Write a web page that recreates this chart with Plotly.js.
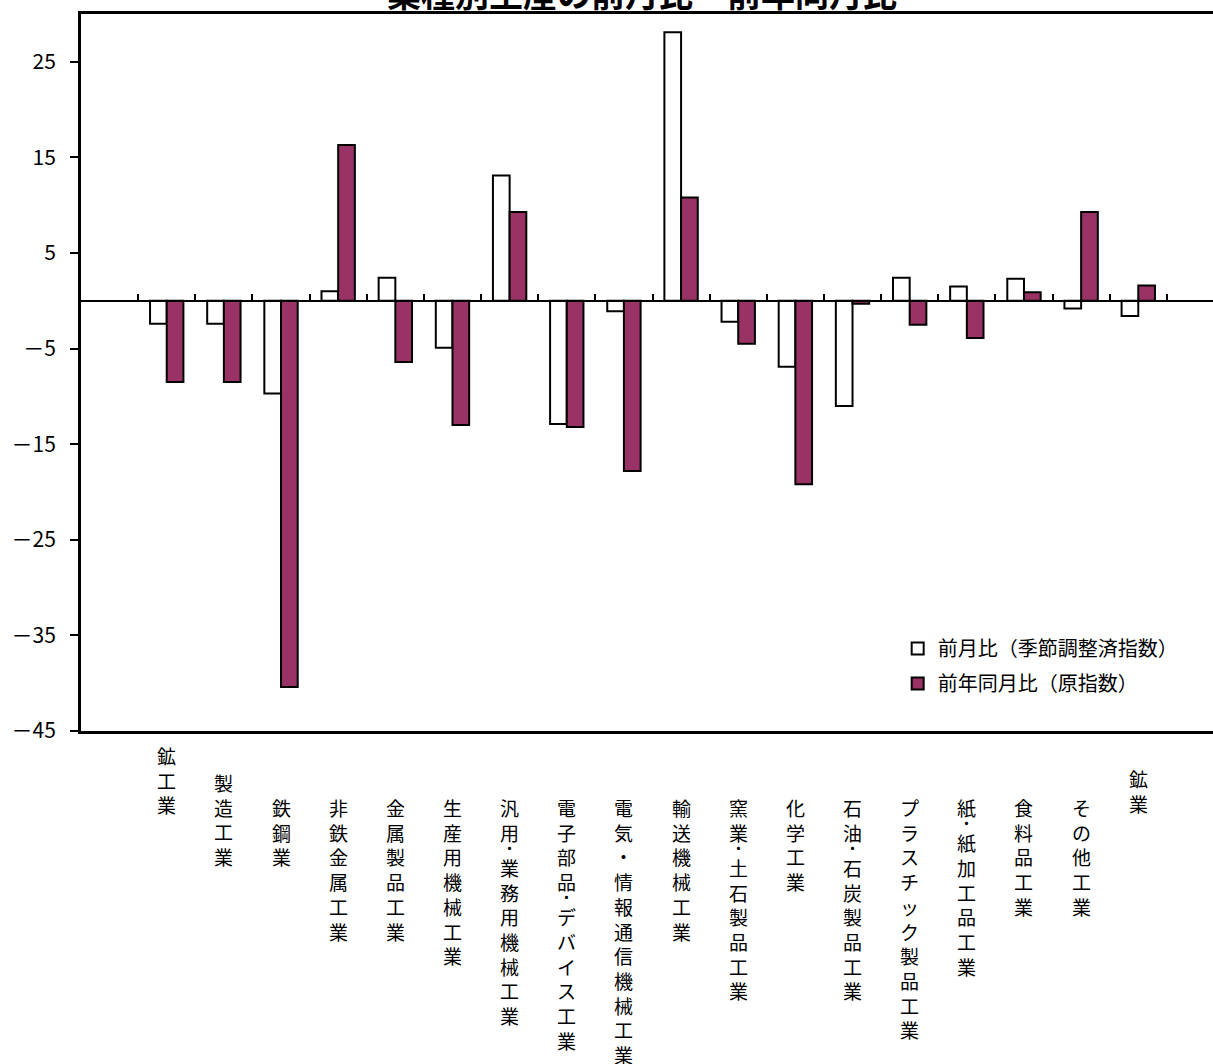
<!DOCTYPE html>
<html>
<head>
<meta charset="utf-8">
<script src="https://cdn.plot.ly/plotly-3.0.1.min.js"></script>
<style>
  html, body { margin: 0; padding: 0; overflow: hidden; background: #ffffff; }
  #chart { width: 1240px; height: 1064px; }
</style>
</head>
<body>
<div id="chart"></div>
<script>
// 業種別生産：前月比（季節調整済指数）と前年同月比（原指数）, 単位 %
const categories = [
  '鉱工業', '製造工業', '鉄鋼業', '非鉄金属工業', '金属製品工業', '生産用機械工業',
  '汎用･業務用機械工業', '電子部品･デバイス工業', '電気・情報通信機械工業', '輸送機械工業',
  '窯業･土石製品工業', '化学工業', '石油･石炭製品工業', 'プラスチック製品工業',
  '紙･紙加工品工業', '食料品工業', 'その他工業', '鉱業'
];
const momChange = [-2.4, -2.4, -9.7, 1.0, 2.4, -4.9, 13.1, -12.9, -1.1, 28.1, -2.2, -6.9, -11.0, 2.4, 1.5, 2.3, -0.8, -1.6];
const yoyChange = [-8.5, -8.5, -40.4, 16.3, -6.4, -13.0, 9.3, -13.2, -17.8, 10.8, -4.5, -19.2, -0.3, -2.5, -3.9, 0.9, 9.3, 1.6];
const seriesNames = ['前月比（季節調整済指数）', '前年同月比（原指数）'];
const yTicks = [-45, -35, -25, -15, -5, 5, 15, 25];

// extra upward offset (px) of a few vertical category labels
const labelLift = [52, 25, 0, 0, 0, 0, 0, 0, 0, 0, 0, 0, 0, 0, 0, 0, 0, 29];

const FONT = '"Noto Sans CJK JP", "Noto Sans", sans-serif';
const MAROON = '#993366';
const HALF_DOT = '･';

const traces = [
  {
    type: 'bar', name: seriesNames[0], x: categories, y: momChange,
    legendgroup: 'mom',
    marker: { color: '#ffffff', line: { color: '#000000', width: 2 } },
    hoverinfo: 'x+y'
  },
  {
    type: 'bar', name: seriesNames[1], x: categories, y: yoyChange,
    legendgroup: 'yoy',
    marker: { color: MAROON, line: { color: '#000000', width: 2 } },
    hoverinfo: 'x+y'
  }
];

// vertical labels: one character per line
const labelAnnotations = categories.map((c, i) => ({
  x: c, xref: 'x', y: 0, yref: 'paper',
  xanchor: 'center', yanchor: 'top',
  yshift: -61 + labelLift[i],
  showarrow: false, align: 'center',
  text: Array.from(c).join('<br>'),
  font: { family: FONT, size: 19, color: '#000000' }
}));

const titleAnnotation = {
  x: 0.4906, xref: 'paper', y: 1, yref: 'paper',
  xanchor: 'center', yanchor: 'middle', yshift: 22,
  showarrow: false,
  text: '<b>業種別生産の前月比・前年同月比</b>',
  font: { family: FONT, size: 34, color: '#000000' }
};

const layout = {
  width: 1240, height: 1064,
  margin: { l: 81, r: 16, t: 13.5, b: 332.5 },
  paper_bgcolor: '#ffffff', plot_bgcolor: '#ffffff',
  barmode: 'group', bargap: 0.416, bargroupgap: 0,
  showlegend: true,
  legend: {
    x: 0.7145, y: 0.1424, xanchor: 'left', yanchor: 'top',
    bgcolor: 'rgba(0,0,0,0)', borderwidth: 0,
    font: { family: FONT, size: 20, color: '#000000' },
    traceorder: 'grouped', tracegroupgap: 6
  },
  xaxis: {
    type: 'category', categoryorder: 'array', categoryarray: categories,
    range: [-1.5, 18.5], fixedrange: true,
    showline: true, linecolor: '#000000', linewidth: 3, mirror: true,
    ticks: '', showticklabels: false, showgrid: false, zeroline: false
  },
  // category axis drawn through y = 0, with boundary ticks
  xaxis2: {
    type: 'category', categoryorder: 'array', categoryarray: categories,
    overlaying: 'x', matches: 'x', anchor: 'free', position: 0.6,
    range: [-1.5, 18.5], fixedrange: true,
    showline: true, linecolor: '#000000', linewidth: 2.5,
    ticks: 'inside', tickson: 'boundaries', ticklen: 6, tickwidth: 2, tickcolor: '#000000',
    showticklabels: false, showgrid: false, zeroline: false
  },
  yaxis: {
    range: [-45, 30], fixedrange: true,
    tickvals: yTicks, ticktext: yTicks.map(v => v < 0 ? '－' + Math.abs(v) : String(v)),
    ticks: 'outside', ticklen: 8, tickwidth: 2, tickcolor: '#000000',
    ticklabelstandoff: 10,
    tickfont: { family: FONT, size: 21, color: '#000000' },
    showline: true, linecolor: '#000000', linewidth: 3, mirror: true,
    showgrid: false, zeroline: false
  },
  annotations: [titleAnnotation].concat(labelAnnotations)
};

// invisible carrier so the y = 0 category axis is laid out
traces.push({
  type: 'scatter', x: categories, y: categories.map(() => null), xaxis: 'x2',
  mode: 'markers', showlegend: false, hoverinfo: 'skip'
});

Plotly.newPlot('chart', traces, layout, { displayModeBar: false, staticPlot: true })
  .then(gd => {
    // half-width middle dots take only a short step in the vertical labels
    // (line offsets are measured from the first line, in em)
    gd.querySelectorAll('.annotation-text').forEach(textEl => {
      let offset = 0;
      textEl.querySelectorAll('tspan.line').forEach(line => {
        const dy = parseFloat(line.getAttribute('dy')) || 0;
        if (line.textContent === HALF_DOT) {
          line.setAttribute('dy', (dy + offset - 0.5) + 'em');
          offset -= 0.75;
        } else if (offset !== 0) {
          line.setAttribute('dy', (dy + offset) + 'em');
        }
      });
    });
  });
</script>
</body>
</html>
